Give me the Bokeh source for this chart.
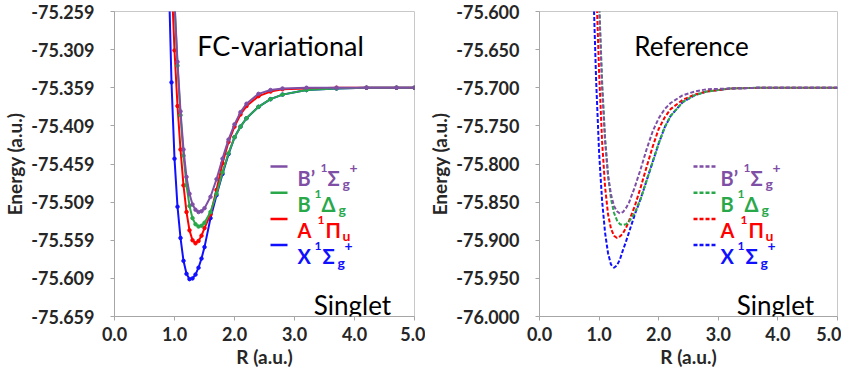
from bokeh.plotting import figure
from bokeh.models import Label, FixedTicker, PrintfTickFormatter
from bokeh.layouts import row
from bokeh.embed import file_html
from bokeh.resources import INLINE

# ---------------- data ----------------
R = [0.90, 0.95, 1.00, 1.05, 1.10, 1.15, 1.20, 1.25, 1.30, 1.35, 1.40, 1.45, 1.50,
     1.60, 1.70, 1.80, 1.90, 2.00, 2.10, 2.20, 2.40, 2.60, 2.80, 3.20, 3.70, 4.20, 4.70, 5.00]

# FC-variational (left panel)
fc_X = [-75.200, -75.352, -75.452, -75.515, -75.556, -75.586, -75.603, -75.610, -75.609, -75.604,
        -75.595, -75.583, -75.568, -75.530, -75.500, -75.472, -75.446, -75.424, -75.410, -75.399,
        -75.384, -75.374, -75.368, -75.362, -75.360, -75.359, -75.359, -75.359]
fc_A = [-75.080, -75.215, -75.310, -75.383, -75.440, -75.487, -75.522, -75.546, -75.559, -75.563,
        -75.560, -75.553, -75.543, -75.525, -75.493, -75.458, -75.430, -75.410, -75.394, -75.383,
        -75.370, -75.364, -75.361, -75.360, -75.359, -75.359, -75.359, -75.359]
fc_B = [-74.950, -75.130, -75.250, -75.330, -75.395, -75.448, -75.487, -75.514, -75.530, -75.538,
        -75.541, -75.540, -75.536, -75.522, -75.498, -75.470, -75.445, -75.424, -75.410, -75.399,
        -75.384, -75.374, -75.368, -75.362, -75.360, -75.359, -75.359, -75.359]
fc_Bp = [-74.950, -75.130, -75.245, -75.325, -75.390, -75.440, -75.476, -75.498, -75.512, -75.519,
         -75.522, -75.521, -75.517, -75.502, -75.479, -75.452, -75.427, -75.407, -75.391, -75.380,
         -75.367, -75.362, -75.360, -75.359, -75.359, -75.359, -75.359, -75.359]

# Reference (right panel)
ref_X = [-75.560, -75.690, -75.785, -75.848, -75.890, -75.917, -75.932, -75.936, -75.933, -75.925,
         -75.913, -75.902, -75.890, -75.866, -75.845, -75.821, -75.797, -75.773, -75.752, -75.737,
         -75.719, -75.710, -75.705, -75.701, -75.700, -75.700, -75.700, -75.700]
ref_A = [-75.400, -75.560, -75.680, -75.770, -75.830, -75.866, -75.885, -75.894, -75.897, -75.895,
         -75.891, -75.884, -75.875, -75.855, -75.830, -75.803, -75.777, -75.754, -75.739, -75.728,
         -75.716, -75.709, -75.705, -75.701, -75.700, -75.700, -75.700, -75.700]
ref_B = [-75.250, -75.440, -75.585, -75.690, -75.765, -75.815, -75.846, -75.864, -75.874, -75.879,
         -75.880, -75.879, -75.876, -75.864, -75.845, -75.821, -75.797, -75.773, -75.752, -75.737,
         -75.719, -75.710, -75.705, -75.701, -75.700, -75.700, -75.700, -75.700]
ref_Bp = [-75.250, -75.440, -75.590, -75.700, -75.770, -75.815, -75.840, -75.855, -75.862, -75.865,
          -75.863, -75.858, -75.851, -75.830, -75.806, -75.780, -75.757, -75.740, -75.728, -75.720,
          -75.710, -75.705, -75.702, -75.701, -75.700, -75.700, -75.700, -75.700]

x_ticks = [0.0, 1.0, 2.0, 3.0, 4.0, 5.0]
fc_y_ticks = [-75.659, -75.609, -75.559, -75.509, -75.459, -75.409, -75.359, -75.309, -75.259]
ref_y_ticks = [-76.000, -75.950, -75.900, -75.850, -75.800, -75.750, -75.700, -75.650, -75.600]

# legend entries: (key, pieces) pieces = (text, dx px, baseline dy px, size px)
legend_rows = [
    ("Bp", [("B\u2019", 0, 11, 20), ("1", 23, 1, 12), ("\u03a3", 30, 11, 20), ("g", 45, 17, 14), ("+", 52, 1, 14)]),
    ("B",  [("B", 0, 11, 20), ("1", 17, 1, 12), ("\u0394", 24, 11, 20), ("g", 41, 17, 14)]),
    ("A",  [("A", 0, 11, 20), ("1", 20, 1, 12), ("\u03a0", 28, 11, 20), ("u", 45, 17, 14)]),
    ("X",  [("X", 0, 11, 20), ("1", 17, 1, 12), ("\u03a3", 25, 11, 20), ("g", 40, 17, 14), ("+", 47, 1, 14)]),
]

COL = {"Bp": "#7f4fa6", "B": "#29a84a", "A": "#ff0000", "X": "#1010ff"}
FONT = "Lato"
FRAME_H = 305
AXIS_COL = "#a6a6a6"
TEXT_COL = "#262626"


def make_fig(ymin, ymax, yticks, frame_w, b_left, b_right):
    p = figure(frame_width=frame_w, frame_height=FRAME_H, x_range=(0, 5), y_range=(ymin, ymax),
               output_backend="svg", toolbar_location=None,
               min_border_left=b_left, min_border_right=b_right, min_border_top=11, min_border_bottom=50)
    p.grid.visible = False
    p.outline_line_color = "#c8c8c8"
    xa = p.xaxis[0]
    ya = p.yaxis[0]
    for ax in (xa, ya):
        ax.axis_line_color = AXIS_COL
        ax.major_tick_line_color = AXIS_COL
        ax.major_tick_out = 4
        ax.major_tick_in = 0
        ax.minor_tick_line_color = None
        ax.major_label_text_font = FONT
        ax.major_label_text_font_style = "bold"
        ax.major_label_text_font_size = "18px"
        ax.major_label_text_color = TEXT_COL
        ax.axis_label_text_font = FONT
        ax.axis_label_text_font_style = "bold"
        ax.axis_label_text_font_size = "19px"
        ax.axis_label_text_color = TEXT_COL
    xa.ticker = FixedTicker(ticks=x_ticks)
    xa.formatter = PrintfTickFormatter(format="%.1f")
    xa.major_label_standoff = 6
    xa.axis_label = "R (a.u.)"
    xa.axis_label_standoff = 1
    ya.ticker = FixedTicker(ticks=yticks)
    ya.formatter = PrintfTickFormatter(format="%.3f")
    ya.major_label_standoff = 16
    ya.axis_label = "Energy (a.u.)"
    ya.axis_label_standoff = 2
    return p


def px_x(p, rel):
    return p.x_range.start + rel / p.frame_width * (p.x_range.end - p.x_range.start)


def px_y(p, rel):
    return p.y_range.end - rel / FRAME_H * (p.y_range.end - p.y_range.start)


def add_text(p, rx, ry, text, size, style="normal", color="black", align="left", baseline="alphabetic"):
    p.add_layout(Label(x=px_x(p, rx), y=px_y(p, ry), text=text, text_font=FONT,
                       text_font_size=f"{size}px", text_font_style=style, text_color=color,
                       text_align=align, text_baseline=baseline))


def decorate(p, title, title_cx, singlet_cx, dashed, line_x0, line_x1, text_x0, title_size):
    add_text(p, title_cx, 34, title, title_size, align="center")
    add_text(p, singlet_cx, 293, "Singlet", 26, align="center")
    for i, (key, pieces) in enumerate(legend_rows):
        ry = 155 + 26.2 * i
        c = COL[key]
        p.line([px_x(p, line_x0), px_x(p, line_x1)], [px_y(p, ry), px_y(p, ry)],
               line_color=c, line_width=2.5, line_dash="4 2" if dashed else "solid")
        for (t, dx, dy, sz) in pieces:
            add_text(p, text_x0 + dx, ry + dy, t, sz, style="bold", color=c)


# ---------------- left panel ----------------
p1 = make_fig(fc_y_ticks[0], fc_y_ticks[-1], fc_y_ticks, 300, 109, 11)
for key, ys in (("X", fc_X), ("A", fc_A), ("B", fc_B), ("Bp", fc_Bp)):
    p1.line(R, ys, line_color=COL[key], line_width=2)
    p1.scatter(R, ys, size=3.5, color=COL[key])
decorate(p1, "FC-variational", 166, 238, False, 156, 173, 183, 27)

# ---------------- right panel ----------------
p2 = make_fig(ref_y_ticks[0], ref_y_ticks[-1], ref_y_ticks, 298, 113, 4)
for key, ys in (("X", ref_X), ("A", ref_A), ("B", ref_B), ("Bp", ref_Bp)):
    p2.line(R, ys, line_color=COL[key], line_width=2, line_dash="4 2")
decorate(p2, "Reference", 152, 236, True, 154, 176, 181, 26)

layout = row(p1, p2)
open("out.html", "w").write(file_html(layout, INLINE))
